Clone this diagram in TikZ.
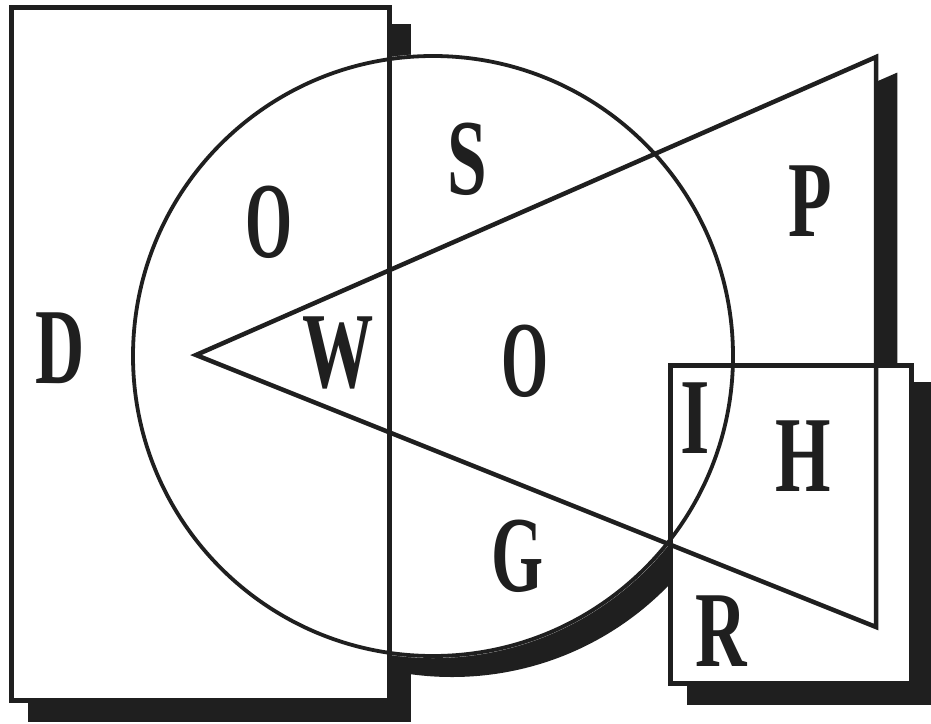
\documentclass[tikz,border=0pt]{standalone}
\usepackage{fontspec}
\setmainfont{Liberation Serif}
\newcommand\NarrowLtr[2]{\scalebox{#1}[1]{#2}}
\tikzset{
  shp/.style={line width=#1, draw=black!88, line join=miter},
  shade/.style={fill=black!88, draw=none},
  lett/.style={inner sep=0pt, text=black!88, font=\fontsize{108}{108}\selectfont\bfseries},
}
\begin{document}
\begin{tikzpicture}[x=1pt,y=-1pt]
\useasboundingbox (0,0) rectangle (931,723);
% ---- shadows (offset 19,19)
\begin{scope}[shift={(19,19)}]
  \fill[shade] (9,4.5) rectangle (392,702.5);
  \fill[shade] (433,356) circle (302);
  \filldraw[shade, draw=black!88, line width=4.5pt] (196,355) -- (876,57) -- (876,627) -- cycle;
  \fill[shade] (668,363) rectangle (914,686);
\end{scope}
% geometry
\coordinate (cc) at (433,356);
\coordinate (t1) at (196,355);
\coordinate (t2) at (876,57);
\coordinate (t3) at (876,627);
% ---- white fills
\fill[white] (9,4.5) rectangle (392,702.5);
\fill[white] (cc) circle (302);
\fill[white] (t1) -- (t2) -- (t3) -- cycle;
\fill[white] (668,363) rectangle (914,686);
% ---- outlines
\draw[shp=5pt] (11.5,7) rectangle (389.5,700);
\draw[shp=3.8pt] (cc) circle (300);
\draw[shp=4.5pt] (t1) -- (t2) -- (t3) -- cycle;
\draw[shp=5pt] (670.5,365.5) rectangle (911.5,683.5);
% ---- letters
\node[lett] (D)  at (60,348)   {\NarrowLtr{0.63}{D}};
\node[lett] (O1) at (269.5,222) {\NarrowLtr{0.56}{O}};
\node[lett] (S)  at (467,159)  {\NarrowLtr{0.66}{S}};
\node[lett] (W)  at (338,353)  {\NarrowLtr{0.66}{W}};
\node[lett] (O2) at (525,361)  {\NarrowLtr{0.56}{O}};
\node[lett] (P)  at (810,201)  {\NarrowLtr{0.66}{P}};
\node[lett] (I)  at (695,418)  {\NarrowLtr{0.70}{I}};
\node[lett] (H)  at (803,456)  {\NarrowLtr{0.66}{H}};
\node[lett] (G)  at (518,556)  {\NarrowLtr{0.62}{G}};
\node[lett] (R)  at (721,631)  {\NarrowLtr{0.66}{R}};
\end{tikzpicture}
\end{document}
